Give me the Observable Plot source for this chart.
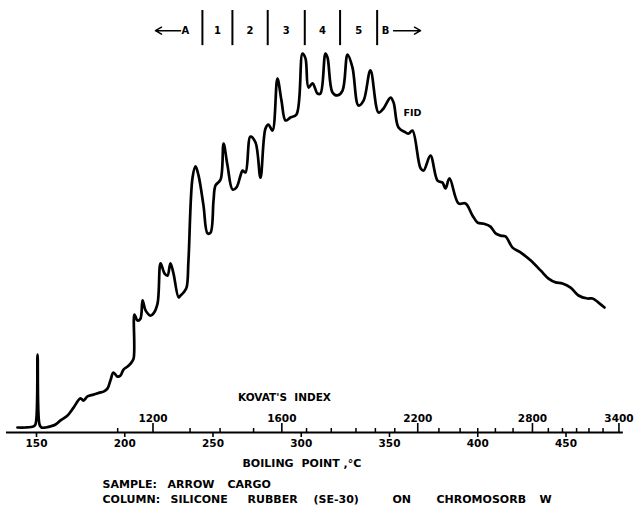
<!DOCTYPE html>
<html>
<head>
<meta charset="utf-8">
<script src="https://cdn.jsdelivr.net/npm/d3@7"></script>
<script src="https://cdn.jsdelivr.net/npm/@observablehq/plot@0.6"></script>
<style>
  html, body { margin: 0; padding: 0; background: #fff; }
  #chart svg { display: block; }
</style>
</head>
<body>
<div id="chart"></div>
<script>
// FID chromatogram of a cargo sample on SE-30: detector response (% of the
// tallest peak) against boiling point (°C), with the Kovats index scale above.

const boilingPoint = [
  139.2, 143.8, 148.3, 149.4, 150.6, 151.7, 152.8, 155.1, 157.9, 160.8,
  163.6, 167.6, 171.0, 174.9, 176.6, 178.9, 182.3, 186.3, 188.0, 190.2,
  191.9, 193.6, 195.9, 197.6, 199.3, 201.6, 203.3, 205.0, 205.5, 207.2,
  208.9, 210.1, 211.8, 214.6, 216.3, 218.6, 220.3, 222.5, 224.2, 225.9,
  227.6, 230.5, 231.6, 233.3, 235.0, 236.1, 238.4, 240.1, 241.8, 244.6,
  246.9, 248.6, 250.3, 251.4, 254.3, 256.0, 258.2, 261.1, 263.3, 265.6,
  266.7, 268.4, 271.2, 274.1, 276.9, 279.7, 281.4, 283.7, 286.5, 288.8,
  291.1, 293.9, 297.3, 300.7, 302.4, 304.1, 306.4, 309.2, 310.9, 313.7,
  314.9, 317.7, 320.5, 323.4, 326.2, 329.0, 332.4, 335.3, 339.2, 343.8,
  346.6, 350.6, 352.3, 355.1, 359.1, 360.8, 363.0, 367.6, 369.3, 373.2,
  377.2, 380.0, 381.7, 384.0, 389.1, 393.1, 397.0, 399.9, 403.3, 407.2,
  410.1, 412.9, 415.7, 419.7, 424.2, 429.9, 435.6, 440.1, 444.1, 448.0,
  452.6, 457.1, 462.2, 465.0, 468.4, 471.8
];
const response = [
  0.0, 0.0, 0.3, 0.8, 19.5, 0.8, 0.0, 0.0, 0.3, 0.8,
  1.9, 3.2, 5.3, 7.8, 7.2, 8.3, 8.8, 9.4, 9.6, 10.4,
  12.6, 14.7, 13.6, 13.9, 15.5, 16.3, 17.1, 18.4, 30.2, 28.6,
  29.1, 34.0, 31.3, 29.9, 30.5, 33.2, 43.9, 41.2, 40.6, 43.9,
  41.2, 34.8, 35.3, 36.1, 37.4, 44.7, 66.8, 69.8, 67.4, 59.4,
  51.9, 52.1, 60.7, 64.7, 66.3, 75.9, 70.1, 63.6, 64.2, 67.4,
  68.7, 68.2, 77.8, 76.2, 66.8, 79.9, 81.0, 79.4, 93.3, 87.4,
  82.1, 82.9, 83.7, 100.0, 98.7, 90.9, 92.0, 89.3, 89.3, 100.0,
  98.9, 89.6, 88.8, 90.1, 99.7, 96.3, 86.1, 87.4, 95.5, 84.2,
  85.3, 88.2, 86.9, 80.2, 78.9, 78.6, 79.4, 69.3, 68.7, 72.7,
  66.0, 65.5, 63.9, 66.6, 59.9, 59.9, 56.7, 54.8, 54.5, 53.7,
  51.9, 51.3, 51.1, 48.1, 46.8, 44.7, 42.0, 39.8, 38.8, 38.5,
  37.4, 35.3, 34.5, 34.5, 33.4, 32.1
];

// Boiling-point scale (°C)
const bpTicks = [150, 200, 250, 300, 350, 400, 450];
const bpAxisExtent = [133, 482.5];

// Kovats retention index and the boiling point at which each index falls
const kovatIndex = [1100, 1200, 1300, 1400, 1500, 1600, 1700, 1800, 1900, 2000, 2100, 2200,
                    2300, 2400, 2500, 2600, 2700, 2800, 2900, 3000, 3100, 3200, 3300, 3400];
const kovatBP = [196, 216, 237, 254, 273, 289, 303, 317, 331, 342, 353, 366,
                 378, 390, 400, 410, 420, 431, 440, 448, 456, 463, 471, 480];
const kovatLabeled = [1200, 1600, 2200, 2800, 3400];

// Fraction cut points (°C) and their names
const fractionCuts = [244, 261, 281, 302, 322, 343];
const fractionLabels = ["1", "2", "3", "4", "5"];

// Caption lines, lettered word by word
const sampleWords = ["SAMPLE:", "ARROW", "CARGO"];
const columnWords = ["COLUMN:", "SILICONE", "RUBBER", "(SE-30)", "ON", "CHROMOSORB", "W"];
const axisTitleWords = ["BOILING", "POINT", ",°C"];

const trace = boilingPoint.map((t, i) => ({t, r: response[i]}));
const kovat = kovatIndex.map((k, i) => ({k, t: kovatBP[i], major: kovatLabeled.includes(k)}));
const fractions = fractionLabels.map((name, i) => ({name, t: (fractionCuts[i] + fractionCuts[i + 1]) / 2}));

const headerY = 106.1;      // row of fraction labels, above the trace
const axisDy = 5;           // axis line sits just below the detector baseline
const captionX = 187.4;     // left edge of the caption block (°C units)
const axisTitleX = 266.7;   // left edge of the boiling-point title (°C units)
const lettering = {fontSize: 11, textAnchor: "start"};

// horizontal lettering offsets (px) for each word of a caption line
const sampleOffsets = [0, 65, 125];
const columnOffsets = [0, 68, 145, 211, 290, 334, 437];
const axisTitleOffsets = [0, 59, 101];

function words(list, offsets, x, dy) {
  return list.map((w, i) => Plot.text([w], {x, y: 0, dx: offsets[i], dy, ...lettering}));
}

const chart = Plot.plot({
  width: 637,
  height: 508,
  margin: 0,
  style: {fontFamily: "'DejaVu Sans', sans-serif", fontWeight: "bold", background: "#fff", color: "#000", fontSize: "10px"},
  x: {domain: [150, 450], range: [36, 565.5], axis: null},
  y: {domain: [0, 100], range: [427, 53], axis: null},
  marks: [
    // boiling-point axis
    Plot.ruleY([0], {x1: bpAxisExtent[0], x2: bpAxisExtent[1], dy: axisDy, strokeWidth: 2}),
    Plot.ruleX(bpTicks, {y1: 0, y2: 0, insetBottom: -5, dy: axisDy, strokeWidth: 1.6}),
    Plot.text(bpTicks, {x: d => d, y: 0, dy: 16, text: d => String(d), fontSize: 10.5}),
    ...words(axisTitleWords, axisTitleOffsets, axisTitleX, 36),

    // Kovats index scale on the same line
    Plot.ruleX(kovat.filter(d => !d.major), {x: "t", y1: 0, y2: 0, insetBottom: 4, dy: axisDy, strokeWidth: 1.5}),
    Plot.ruleX(kovat.filter(d => d.major), {x: "t", y1: 0, y2: 0, insetBottom: 9, dy: axisDy, strokeWidth: 1.6}),
    Plot.text(kovat.filter(d => d.major), {x: "t", y: 0, dy: -9, text: d => String(d.k), fontSize: 10.5}),
    Plot.text(["KOVAT'S  INDEX"], {x: 290.5, y: 0, dy: -30, fontSize: 10.5}),

    // chromatogram trace
    Plot.line(trace, {x: "t", y: "r", stroke: "#000", strokeWidth: 2.7, curve: "catmull-rom",
                      strokeLinejoin: "round", strokeLinecap: "round"}),
    Plot.text(["FID"], {x: 363, y: 84.2, fontSize: 9.5}),

    // fraction cuts
    Plot.ruleX(fractionCuts, {y1: 102.1, y2: 111.5, strokeWidth: 2}),
    Plot.text(fractions, {x: "t", y: headerY, text: "name", fontSize: 10}),
    Plot.text(["A"], {x: 234.4, y: headerY, fontSize: 10}),
    Plot.text(["B"], {x: 347.7, y: headerY, fontSize: 10}),
    Plot.arrow([{x1: 231.6, x2: 217.4}], {x1: "x1", x2: "x2", y1: headerY, y2: headerY, strokeWidth: 1.5, headLength: 7}),
    Plot.arrow([{x1: 352.3, x2: 367.6}], {x1: "x1", x2: "x2", y1: headerY, y2: headerY, strokeWidth: 1.5, headLength: 7}),

    // sample description
    ...words(sampleWords, sampleOffsets, captionX, 57),
    ...words(columnWords, columnOffsets, captionX, 72)
  ]
});

document.getElementById("chart").appendChild(chart);
</script>
</body>
</html>
